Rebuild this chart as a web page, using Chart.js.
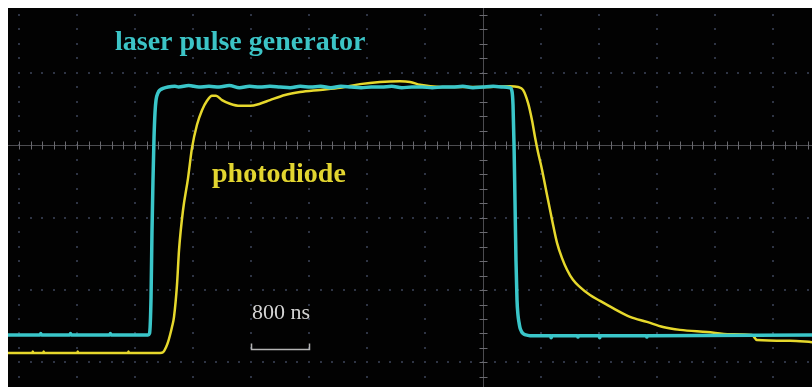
<!DOCTYPE html>
<html>
<head>
<meta charset="utf-8">
<script src="https://cdn.jsdelivr.net/npm/chart.js@4.4.1/dist/chart.umd.min.js"></script>
<style>
  html, body { margin: 0; padding: 0; background: #fff; }
  #wrap { width: 812px; height: 387px; }
</style>
</head>
<body>
<div id="wrap"><canvas id="scope" width="812" height="387"></canvas></div>
<script>
// scope trace, time in ns, level in divisions from screen centre

var pulseTimes = [-152, 290, 300, 310, 700, 710, 720, 1250, 1260, 1270, 1779, 1800, 1821, 1834, 1848, 1862, 1876, 1890, 1917, 1945, 1986, 2055, 2150,
  2200, 2340, 2480, 2620, 2760, 2900, 3040, 3180, 3320, 3460, 3600, 3740, 3880, 4020, 4160, 4300, 4440, 4580, 4720, 4860,
  5000, 5140, 5280, 5420, 5560, 5700, 5840, 5980, 6120, 6260, 6400, 6540, 6680, 6772,
  6800, 6814, 6828, 6841, 6855, 6869, 6883, 6897, 6910, 6930, 6952, 6990, 7048,
  7330, 7340, 7350, 7700, 7710, 7720, 8000, 8010, 8020, 8650, 8660, 8670, 10938];
var pulseLevels = [-2.62, -2.62, -2.60, -2.62, -2.62, -2.60, -2.62, -2.62, -2.60, -2.62, -2.62, -2.60, -2.10, -1.20, -0.48, 0.10, 0.45, 0.62, 0.72, 0.76, 0.78, 0.80, 0.81,
  0.80, 0.82, 0.80, 0.81, 0.80, 0.82, 0.79, 0.81, 0.80, 0.81, 0.80, 0.79, 0.81, 0.80, 0.81, 0.79, 0.81, 0.80, 0.79, 0.80,
  0.80, 0.81, 0.79, 0.80, 0.80, 0.79, 0.80, 0.80, 0.81, 0.79, 0.80, 0.81, 0.80, 0.79,
  0.74, 0.55, 0.00, -0.76, -1.60, -2.14, -2.35, -2.45, -2.52, -2.57, -2.60, -2.62, -2.63,
  -2.63, -2.66, -2.63, -2.63, -2.65, -2.63, -2.63, -2.66, -2.63, -2.63, -2.65, -2.63, -2.62];

var diodeTimes = [-152, 180, 190, 200, 330, 340, 350, 800, 810, 820, 1500, 1510, 1520,
  1945, 1986, 2028, 2055, 2083, 2110, 2138, 2179, 2207, 2262, 2331, 2386, 2455, 2524, 2593, 2662, 2717,
  2800, 2910, 3048, 3186, 3324, 3462, 3669, 3876, 4152, 4428, 4703, 4979, 5255, 5393, 5531, 5807, 6359, 6772, 6883,
  6952, 7021, 7076, 7117, 7159, 7214, 7283, 7352, 7421, 7490, 7559, 7641, 7738, 7876, 8014, 8193, 8428, 8662, 8883, 9117,
  9490, 9807, 10110, 10179, 10634, 10938];
var diodeLevels = [-2.87, -2.87, -2.85, -2.87, -2.87, -2.85, -2.87, -2.87, -2.85, -2.87, -2.87, -2.85, -2.87,
  -2.87, -2.86, -2.79, -2.72, -2.62, -2.51, -2.37, -1.93, -1.45, -0.90, -0.46, -0.04, 0.28, 0.48, 0.61, 0.68, 0.68,
  0.62, 0.57, 0.54, 0.54, 0.57, 0.62, 0.69, 0.73, 0.76, 0.79, 0.84, 0.87, 0.88, 0.87, 0.83, 0.80, 0.80, 0.81, 0.80,
  0.76, 0.58, 0.34, 0.11, -0.10, -0.34, -0.69, -1.03, -1.35, -1.56, -1.72, -1.86, -1.96, -2.07, -2.15, -2.25, -2.37, -2.44, -2.51, -2.55,
  -2.58, -2.61, -2.62, -2.69, -2.70, -2.72];

var timeRange = [-152, 10938];
var levelRange = [-3.338, 1.89];
var divTime = 800;   // ns per division
var centreTime = 6400;

var labels = [
  { text: "laser pulse generator", t: 1324, v: 1.41, color: "#3cc4c6", font: "bold 28px 'Liberation Serif'" },
  { text: "photodiode", t: 2662, v: -0.41, color: "#e2d530", font: "bold 28px 'Liberation Serif'" },
  { text: "800 ns", t: 3214, v: -2.32, color: "#d4d4d4", font: "22px 'Liberation Serif'" }
];

function toPoints(ts, vs) {
  return ts.map(function (t, i) { return { x: t, y: vs[i] }; });
}

var scopeGrid = {
  id: "scopeGrid",
  beforeDatasetsDraw: function (chart) {
    var c = chart.ctx, a = chart.chartArea;
    var xs = chart.scales.x, ys = chart.scales.y;
    c.save();
    c.fillStyle = "#020202";
    c.fillRect(a.left, a.top, a.right - a.left, a.bottom - a.top);

    // dotted division lines
    c.fillStyle = "#2e3444";
    for (var k = 0; k <= 13; k++) {
      if (k * divTime === centreTime) continue;
      var px = Math.round(xs.getPixelForValue(k * divTime));
      for (var j = -17; j <= 9; j++) {
        var py = Math.round(ys.getPixelForValue(j * 0.2));
        if (py > a.top && py < a.bottom) c.fillRect(px - 1, py - 1, 2, 2);
      }
    }
    for (var r = -3; r <= 1; r++) {
      if (r === 0) continue;
      var ry = Math.round(ys.getPixelForValue(r));
      for (var m = -1; m <= 68; m++) {
        var mx = Math.round(xs.getPixelForValue(m * divTime / 5));
        if (mx > a.left && mx < a.right) c.fillRect(mx - 1, ry - 1, 2, 2);
      }
    }

    // centre cross with minor ticks
    var cx = Math.round(xs.getPixelForValue(centreTime)) + 0.5;
    var cy = Math.round(ys.getPixelForValue(0)) + 0.5;
    c.strokeStyle = "#4c4c50";
    c.lineWidth = 1;
    c.beginPath();
    c.moveTo(a.left, cy); c.lineTo(a.right, cy);
    c.moveTo(cx, a.top); c.lineTo(cx, a.bottom);
    c.stroke();
    c.strokeStyle = "#6a6a70";
    c.beginPath();
    for (var n = -1; n <= 68; n++) {
      var tx = Math.round(xs.getPixelForValue(n * divTime / 5)) + 0.5;
      if (tx > a.left && tx < a.right) { c.moveTo(tx, cy - 4); c.lineTo(tx, cy + 4); }
    }
    for (var q = -17; q <= 9; q++) {
      var ty = Math.round(ys.getPixelForValue(q * 0.2)) + 0.5;
      if (ty > a.top && ty < a.bottom) { c.moveTo(cx - 4, ty); c.lineTo(cx + 4, ty); }
    }
    c.stroke();
    c.restore();
  },
  afterDatasetsDraw: function (chart) {
    var c = chart.ctx;
    var xs = chart.scales.x, ys = chart.scales.y;
    c.save();
    c.textBaseline = "middle";
    c.textAlign = "left";
    labels.forEach(function (l) {
      c.font = l.font;
      c.fillStyle = l.color;
      c.fillText(l.text, xs.getPixelForValue(l.t), ys.getPixelForValue(l.v));
    });
    // 800 ns scale bar
    var x0 = Math.round(xs.getPixelForValue(3200)) + 0.5;
    var x1 = Math.round(xs.getPixelForValue(3200 + divTime)) + 0.5;
    var yb = Math.round(ys.getPixelForValue(-2.81)) + 0.5;
    var yt = Math.round(ys.getPixelForValue(-2.73)) + 0.5;
    c.strokeStyle = "#b4b4b4";
    c.lineWidth = 1.5;
    c.beginPath();
    c.moveTo(x0, yt); c.lineTo(x0, yb); c.lineTo(x1, yb); c.lineTo(x1, yt);
    c.stroke();
    c.restore();
  }
};

new Chart(document.getElementById("scope").getContext("2d"), {
  type: "line",
  data: {
    datasets: [
      {
        label: "laser pulse generator",
        data: toPoints(pulseTimes, pulseLevels),
        borderColor: "#3ac6c9",
        borderWidth: 3.5,
        borderJoinStyle: "round",
        pointRadius: 0,
        cubicInterpolationMode: "monotone",
      },
      {
        label: "photodiode",
        data: toPoints(diodeTimes, diodeLevels),
        borderColor: "#e6d82c",
        borderWidth: 2.5,
        borderJoinStyle: "round",
        pointRadius: 0,
        cubicInterpolationMode: "monotone",
      },
    ],
  },
  options: {
    responsive: false,
    animation: false,
    layout: { padding: { left: 8, top: 8, right: 0, bottom: 0 } },
    plugins: { legend: { display: false }, tooltip: { enabled: false } },
    scales: {
      x: { type: "linear", min: timeRange[0], max: timeRange[1], display: false },
      y: { type: "linear", min: levelRange[0], max: levelRange[1], display: false },
    },
  },
  plugins: [scopeGrid],
});
</script>
</body>
</html>
